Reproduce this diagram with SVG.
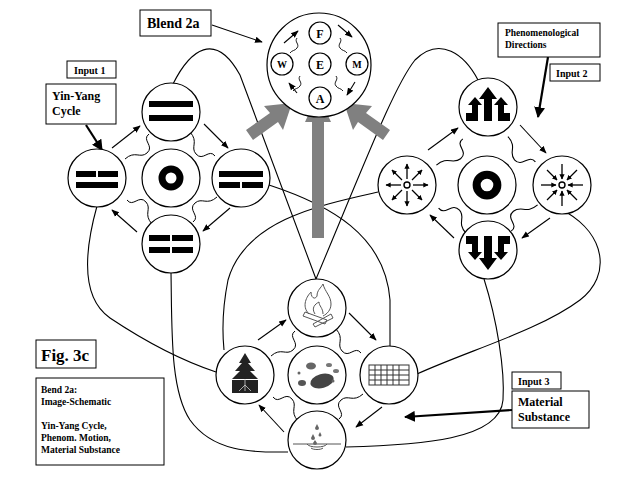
<svg xmlns="http://www.w3.org/2000/svg" width="638" height="493" viewBox="0 0 638 493">
<style>
.c{fill:#fff;stroke:#000;stroke-width:1.2}
.l{fill:none;stroke:#000;stroke-width:1.1}
.a{fill:none;stroke:#000;stroke-width:1.1;marker-end:url(#ah)}
.ta{fill:none;stroke:#000;stroke-width:2.2;marker-end:url(#ahb)}
.b{fill:#fff;stroke:#000;stroke-width:1}
.t{font-family:"Liberation Serif",serif;font-weight:bold;fill:#000}
.g{fill:#808080}
.k{fill:#000}
.gl{fill:none;stroke:#555;stroke-width:1}
</style>
<defs>
<marker id="ah" viewBox="0 0 10 10" refX="9" refY="5" markerWidth="7" markerHeight="7" orient="auto"><path d="M0,1 L10,5 L0,9 z"/></marker>
<marker id="ahb" viewBox="0 0 10 10" refX="9" refY="5" markerWidth="5" markerHeight="5" orient="auto"><path d="M0,0 L10,5 L0,10 z"/></marker>
<marker id="sm" viewBox="0 0 10 10" refX="9" refY="5" markerWidth="4" markerHeight="4" orient="auto"><path d="M0,0 L10,5 L0,10 z"/></marker>
<path id="wv" d="M-22,-44 c-8,6 6,12 -2,19 c-7,6 -12,-3 -22,6" fill="none" stroke="#000" stroke-width="1"/>
<g id="waves"><use href="#wv"/><use href="#wv" transform="rotate(90)"/><use href="#wv" transform="rotate(180)"/><use href="#wv" transform="rotate(270)"/></g>
<g id="ring"><circle r="9" fill="none" stroke="#000" stroke-width="7"/></g>
<path id="sw" d="M0,0 c-3,4 3,6 0,10 c-2,3 -5,2 -7,5" fill="none" stroke="#000" stroke-width="0.9"/>
</defs>

<g id="connectors">
<path class="l" d="M173,84 C190,50 215,30 240,75 L316,279"/>
<path class="l" d="M478,80 C465,55 440,35 415,60 C395,85 370,150 316,279"/>
<path class="l" d="M269,185 C330,205 385,235 390,300 L390,346"/>
<path class="l" d="M378,192 C320,205 245,220 228,280 C222,310 222,330 224,350"/>
<path class="l" d="M97,206 C82,260 84,300 110,318 C140,338 180,360 216,372"/>
<path class="l" d="M171,272 C172,330 170,390 190,420 C215,455 260,452 288,452"/>
<path class="l" d="M566,212 C605,235 612,275 580,300 C540,330 470,350 417,374"/>
<path class="l" d="M484,279 C497,320 505,370 503,400 C500,440 420,445 346,447"/>
<path class="g" d="M312,238 L324,238 L324,122 L331,122 L318,94 L305,122 L312,122 z"/>
<path class="g" d="M246,130 L253,140 L278,122 L283,130 L292,103 L264,106 L270,113 z"/>
<path class="g" d="M390,130 L383,140 L358,122 L353,130 L344,103 L372,106 L366,113 z"/>
<path class="a" d="M212,25 L262,42"/>
<path class="ta" d="M86,125 L102,150"/>
<path class="ta" d="M548,57 L538,117"/>
<path class="ta" d="M512,410 L405,417"/>
<path class="a" d="M112,148 L140,126"/>
<path class="a" d="M204,124 L228,148"/>
<path class="a" d="M230,208 L203,231"/>
<path class="a" d="M137,232 L112,210"/>
<path class="a" d="M428,150 L458,128"/>
<path class="a" d="M520,125 L546,153"/>
<path class="a" d="M550,218 L522,238"/>
<path class="a" d="M454,238 L430,215"/>
<path class="a" d="M258,340 L286,320"/>
<path class="a" d="M349,313 L376,340"/>
<path class="a" d="M382,407 L356,427"/>
<path class="a" d="M284,432 L259,405"/>
<use href="#waves" transform="translate(171,178)"/>
<use href="#waves" transform="translate(487,185) scale(1.1,1.05)"/>
<use href="#waves" transform="translate(317,375)"/>
</g>

<g id="blend">
<circle class="c" cx="319" cy="65" r="52"/>
<path class="a" d="M284,43 L298,31"/>
<path class="a" d="M338,25 L352,37"/>
<path class="a" d="M355,82 L347,95"/>
<path class="a" d="M297,93 L289,83"/>
<use href="#sw" transform="translate(297,38)"/>
<use href="#sw" transform="translate(340,38) scale(-1,1)"/>
<use href="#sw" transform="translate(300,76)"/>
<use href="#sw" transform="translate(336,76) scale(-1,1)"/>
<circle class="c" cx="320" cy="33" r="11"/><text class="t" x="320" y="37.5" font-size="12" text-anchor="middle">F</text>
<circle class="c" cx="282" cy="64" r="11"/><text class="t" x="282" y="68" font-size="10" text-anchor="middle">W</text>
<circle class="c" cx="320" cy="64" r="11"/><text class="t" x="320" y="68.5" font-size="12" text-anchor="middle">E</text>
<circle class="c" cx="357" cy="64" r="11"/><text class="t" x="357" y="68" font-size="10" text-anchor="middle">M</text>
<circle class="c" cx="320" cy="98" r="11"/><text class="t" x="320" y="102.5" font-size="12" text-anchor="middle">A</text>
</g>

<g id="left-group">
<g id="yy-top" transform="translate(171,112)"><circle class="c" r="29"/><rect class="k" x="-22" y="-11" width="44" height="6"/><rect class="k" x="-22" y="3" width="44" height="6"/></g>
<g id="yy-left" transform="translate(97,178)"><circle class="c" r="29"/><rect class="k" x="-21" y="-7" width="20" height="6"/><rect class="k" x="1" y="-7" width="20" height="6"/><rect class="k" x="-21" y="4" width="42" height="6"/></g>
<g id="yy-center" transform="translate(171,178)"><circle class="c" r="29"/><use href="#ring"/></g>
<g id="yy-right" transform="translate(241,178)"><circle class="c" r="29"/><rect class="k" x="-22" y="-7" width="44" height="6"/><rect class="k" x="-22" y="4" width="21" height="6"/><rect class="k" x="1" y="4" width="21" height="6"/></g>
<g id="yy-bottom" transform="translate(171,244)"><circle class="c" r="29"/><rect class="k" x="-22" y="-9" width="21" height="6"/><rect class="k" x="1" y="-9" width="21" height="6"/><rect class="k" x="-22" y="3" width="21" height="6"/><rect class="k" x="1" y="3" width="21" height="6"/></g>
</g>

<g id="right-group">
<g id="pd-top" transform="translate(488,107)"><circle class="c" r="29"/>
<path class="k" d="M-4,14 L-4,-8 L-9,-8 L0,-20 L9,-8 L4,-8 L4,14 z"/>
<path class="k" d="M-22,14 L-22,6 L-16,6 L-16,-2 L-20,-2 L-13,-10 L-6,-2 L-10,-2 L-10,14 z"/>
<path class="k" d="M22,14 L22,6 L16,6 L16,-2 L20,-2 L13,-10 L6,-2 L10,-2 L10,14 z"/></g>
<g id="pd-left" transform="translate(407,185)"><circle class="c" r="29"/><circle r="3" fill="none" stroke="#000" stroke-width="1.4"/>
<g stroke="#000" stroke-width="1.3" marker-end="url(#sm)"><line x1="0" y1="-6" x2="0" y2="-21"/><line x1="0" y1="6" x2="0" y2="21"/><line x1="-6" y1="0" x2="-21" y2="0"/><line x1="6" y1="0" x2="21" y2="0"/><line x1="5" y1="5" x2="15" y2="15"/><line x1="-5" y1="5" x2="-15" y2="15"/><line x1="5" y1="-5" x2="15" y2="-15"/><line x1="-5" y1="-5" x2="-15" y2="-15"/></g></g>
<g id="pd-center" transform="translate(487,185)"><circle class="c" r="29"/><use href="#ring" transform="scale(1.15)"/></g>
<g id="pd-right" transform="translate(562,185)"><circle class="c" r="29"/><circle r="3" fill="none" stroke="#000" stroke-width="1.4"/>
<g stroke="#000" stroke-width="1.3" marker-end="url(#sm)"><line y1="-21" x2="0" y2="-6"/><line y1="21" x2="0" y2="6"/><line x1="-21" x2="-6" y2="0"/><line x1="21" x2="6" y2="0"/><line x1="15" y1="15" x2="5" y2="5"/><line x1="-15" y1="15" x2="-5" y2="5"/><line x1="15" y1="-15" x2="5" y2="-5"/><line x1="-15" y1="-15" x2="-5" y2="-5"/></g></g>
<g id="pd-bottom" transform="translate(488,250)"><circle class="c" r="29"/><g transform="scale(1,-1)">
<path class="k" d="M-4,14 L-4,-8 L-9,-8 L0,-20 L9,-8 L4,-8 L4,14 z"/>
<path class="k" d="M-22,14 L-22,6 L-16,6 L-16,-2 L-20,-2 L-13,-10 L-6,-2 L-10,-2 L-10,14 z"/>
<path class="k" d="M22,14 L22,6 L16,6 L16,-2 L20,-2 L13,-10 L6,-2 L10,-2 L10,14 z"/></g></g>
</g>

<g id="bottom-group">
<g id="fire" transform="translate(317,308)"><circle class="c" r="29"/>
<path class="gl" d="M-8,6 C-16,-2 -10,-12 -6,-16 C-6,-10 -2,-8 0,-12 C0,-18 4,-20 6,-24 C8,-16 14,-12 14,-4 C14,2 10,6 6,8"/>
<path class="gl" d="M-2,6 C-6,0 -2,-4 2,-6 C2,-2 6,0 6,6"/>
<path class="gl" d="M-14,8 L8,16 L10,12 L-12,4 z M-4,16 L14,6 L16,10 L-2,19 z"/></g>
<g id="tree" transform="translate(245,375)"><circle class="c" r="29"/>
<path fill="#222" d="M0,-22 L6,-12 L3,-12 L10,-4 L5,-4 L13,4 L-13,4 L-5,-4 L-10,-4 L-3,-12 L-6,-12 z"/>
<rect fill="#222" x="-13" y="5" width="26" height="13"/><path d="M0,4 L0,16 M0,10 L-6,16 M0,10 L6,16" stroke="#ccc" stroke-width="0.8"/></g>
<g id="earth" transform="translate(317,375)"><circle class="c" r="29"/>
<ellipse cx="5" cy="6" rx="12" ry="7" fill="#444" transform="rotate(-15 5 6)"/>
<ellipse cx="-6" cy="-9" rx="5" ry="3.5" fill="#666"/><ellipse cx="-15" cy="8" rx="4" ry="3" fill="#555"/>
<ellipse cx="12" cy="-10" rx="3" ry="2" fill="#777"/><ellipse cx="19" cy="-4" rx="3" ry="2" fill="#777"/><circle cx="-18" cy="-2" r="1.5" fill="#666"/><circle cx="16" cy="6" r="1.5" fill="#666"/></g>
<g id="metal" transform="translate(389,375)"><circle class="c" r="29"/>
<g fill="none" stroke="#333" stroke-width="1"><rect x="-20" y="-10" width="40" height="20"/><path d="M-20,-5 H20 M-20,0 H20 M-20,5 H20 M-14,-10 V10 M-8,-10 V10 M-2,-10 V10 M4,-10 V10 M10,-10 V10"/></g></g>
<g id="water" transform="translate(317,440)"><circle class="c" r="29"/>
<path class="gl" d="M-24,4 H24 M-10,4 C-8,8 8,8 10,4 M-6,8 C-4,10 4,10 6,8"/>
<path d="M0,-16 l-2,4 a2,2 0 0 0 4,0 z M-4,-6 l-2,4 a2,2 0 0 0 4,0 z M3,-8 l-1.5,3 a1.5,1.5 0 0 0 3,0 z M-2,0 l-2,3 a2,2 0 0 0 4,0 z" fill="#666"/></g>
</g>

<g id="labels">
<g id="blend-label"><rect class="b" x="140" y="10" width="71" height="26"/><text class="t" x="147" y="28" font-size="14">Blend 2a</text></g>
<g id="input1"><rect class="b" x="67" y="61" width="49" height="17"/><text class="t" x="74" y="74" font-size="10">Input 1</text></g>
<g id="yinyang"><rect class="b" x="46" y="84" width="70" height="40"/><text class="t" x="52" y="100" font-size="12">Yin-Yang</text><text class="t" x="52" y="115" font-size="12">Cycle</text></g>
<g id="phen"><rect class="b" x="498" y="23" width="102" height="34"/><text class="t" x="505" y="36" font-size="9.5">Phenomenological</text><text class="t" x="505" y="48" font-size="9.5">Directions</text></g>
<g id="input2"><rect class="b" x="550" y="64" width="50" height="17"/><text class="t" x="556" y="77" font-size="10">Input 2</text></g>
<g id="fig"><rect class="b" x="36" y="340" width="60" height="28"/><text class="t" x="41" y="361" font-size="17">Fig. 3c</text></g>
<g id="desc"><rect class="b" x="36" y="378" width="128" height="87"/>
<text class="t" font-size="9.5"><tspan x="41" y="393">Bend 2a:</tspan><tspan x="41" y="405">Image-Schematic</tspan><tspan x="41" y="429">Yin-Yang Cycle,</tspan><tspan x="41" y="441">Phenom. Motion,</tspan><tspan x="41" y="453">Material Substance</tspan></text></g>
<g id="input3"><rect class="b" x="512" y="372" width="49" height="17"/><text class="t" x="518" y="385" font-size="10">Input 3</text></g>
<g id="material"><rect class="b" x="512" y="391" width="77" height="37"/><text class="t" x="518" y="406" font-size="12">Material</text><text class="t" x="518" y="421" font-size="12">Substance</text></g>
</g>
</svg>
